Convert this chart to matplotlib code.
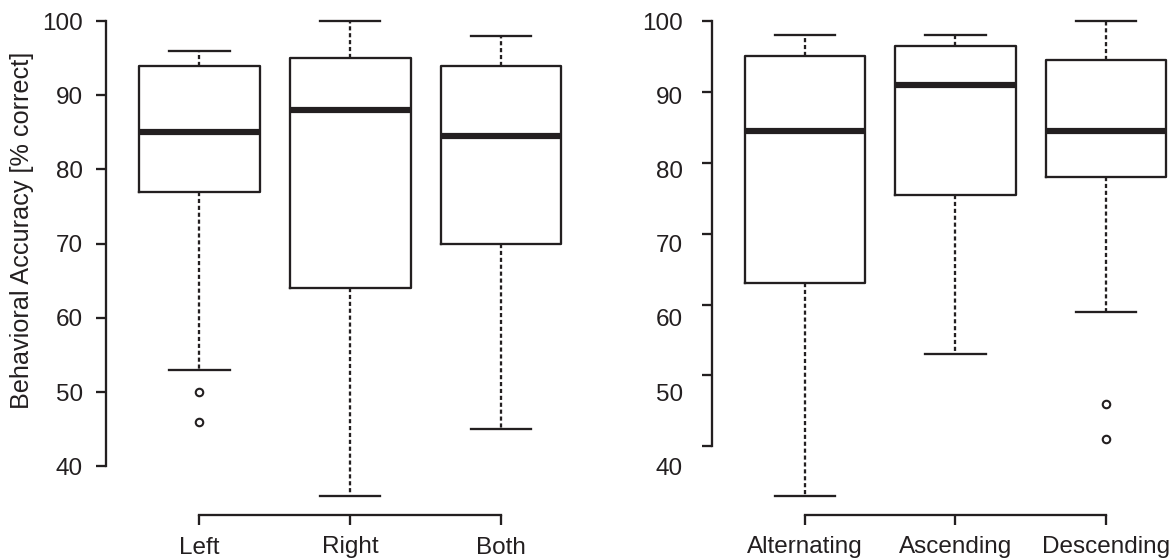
import matplotlib
matplotlib.use("Agg")
import matplotlib.pyplot as plt

plt.rcParams['font.family'] = ['Liberation Sans', 'DejaVu Sans']

INK = '#231f20'

# ---- data ----
left_categories = ['Left', 'Right', 'Both']
left_whislo = [53, 36, 45]
left_q1 = [77, 64, 70]
left_med = [85, 88, 84.5]
left_q3 = [94, 95, 94]
left_whishi = [96, 100, 98]
left_fliers = [[50, 46], [], []]

right_categories = ['Alternating', 'Ascending', 'Descending']
right_whislo = [33, 53, 59]
right_q1 = [63, 75.5, 78]
right_med = [84.5, 91, 84.5]
right_q3 = [95, 96.5, 94.5]
right_whishi = [98, 98, 100]
right_fliers = [[], [], [46, 41]]

yticks = [40, 50, 60, 70, 80, 90, 100]

W, H = 1173, 560
DPI = 100
fig = plt.figure(figsize=(W / DPI, H / DPI), dpi=DPI)
fig.patch.set_facecolor('white')

PX = 72.0 / DPI  # points per pixel
FS = 17.5
LW = 2.3 * PX


def make_stats(whislo, q1, med, q3, whishi, fliers):
    return [dict(whislo=a, q1=b, med=c, q3=d, whishi=e, fliers=f)
            for a, b, c, d, e, f in zip(whislo, q1, med, q3, whishi, fliers)]


def draw_panel(ax, stats, cats, ylim):
    ax.bxp(stats, positions=[1, 2, 3], widths=0.8, capwidths=0.4,
           showfliers=True, patch_artist=False,
           boxprops=dict(color=INK, linewidth=LW),
           medianprops=dict(color=INK, linewidth=6.2 * PX, solid_capstyle='butt'),
           whiskerprops=dict(color=INK, linewidth=LW, linestyle=(0, (1.8, 1.2))),
           capprops=dict(color=INK, linewidth=LW),
           flierprops=dict(marker='o', markerfacecolor='none', markeredgecolor=INK,
                           markersize=5.4, markeredgewidth=1.5))
    ax.set_xlim(0.38, 3.62)
    ax.set_ylim(*ylim)
    for s in ['top', 'right']:
        ax.spines[s].set_visible(False)
    for s in ['left', 'bottom']:
        ax.spines[s].set_linewidth(LW)
        ax.spines[s].set_color(INK)
        ax.spines[s].set_capstyle('projecting')
    ax.spines['left'].set_bounds(40, 100)
    ax.spines['bottom'].set_bounds(1, 3)
    ax.set_xticks([1, 2, 3])
    ax.set_xticklabels(cats, fontsize=FS, color=INK)
    ax.set_yticks(yticks)
    ax.tick_params(axis='both', length=10 * PX, width=LW, color=INK)
    ax.tick_params(axis='x', pad=11.5 * PX)
    ax.set_facecolor('none')


# axes geometry in pixels
top_px, bot_px = 2.0, 515.0
yb = (H - bot_px) / H
yh = (bot_px - top_px) / H

# left panel
lx0 = 106.0
lsp = 150.8
axL = fig.add_axes([lx0 / W, yb, 3.24 * lsp / W, yh])
draw_panel(axL, make_stats(left_whislo, left_q1, left_med, left_q3, left_whishi, left_fliers),
           left_categories, (33.44, 102.56))
axL.set_yticklabels([str(v) for v in yticks], fontsize=FS, color=INK)
axL.tick_params(axis='y', pad=13.0 * PX)

# right panel
rx0 = 711.5
rsp = 150.6
axR = fig.add_axes([rx0 / W, yb, 3.24 * rsp / W, yh])
draw_panel(axR, make_stats(right_whislo, right_q1, right_med, right_q3, right_whishi, right_fliers),
           right_categories, (30.32, 102.68))
axR.tick_params(axis='y', labelleft=False)

# right panel tick labels (offset from the ticks as in the reference)
axRL = fig.add_axes([rx0 / W, yb, 3.24 * rsp / W, yh])
axRL.set_ylim(33.44, 102.56)
axRL.set_xlim(0.38, 3.62)
axRL.patch.set_visible(False)
for s in axRL.spines.values():
    s.set_visible(False)
axRL.set_xticks([])
axRL.set_yticks(yticks)
axRL.set_yticklabels([str(v) for v in yticks], fontsize=FS, color=INK)
axRL.tick_params(axis='y', length=0, pad=28.5 * PX)

# y label
fig.text(22 / W, 1 - 230 / H, 'Behavioral Accuracy [% correct]', rotation=90,
         ha='center', va='center', fontsize=18.2, color=INK)

fig.savefig('out.png', dpi=DPI, facecolor='white')
